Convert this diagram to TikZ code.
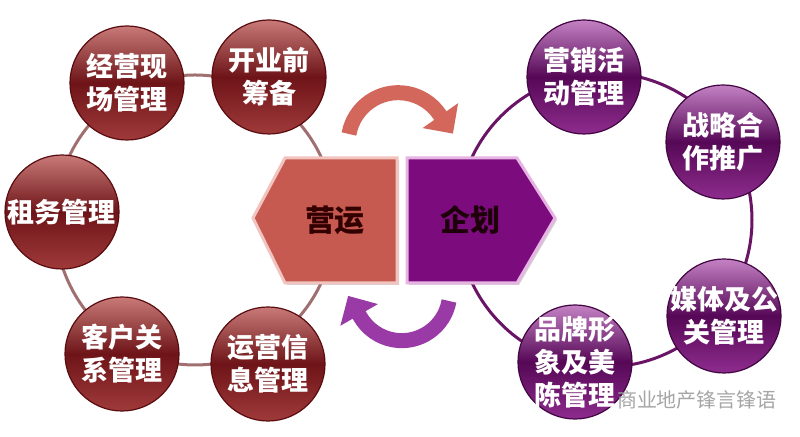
\documentclass[tikz,border=0pt]{standalone}
\usepackage{fontspec}
\setmainfont{Noto Sans CJK SC}
\usetikzlibrary{arrows.meta,shadows}

\definecolor{ringred}{HTML}{A07070}
\definecolor{ringpurple}{HTML}{6A1466}
\definecolor{redtop}{HTML}{C87A78}
\definecolor{redmid}{HTML}{6E1418}
\definecolor{redbot}{HTML}{A03A3A}
\definecolor{redrim}{HTML}{5A0C10}
\definecolor{purtop}{HTML}{C482C4}
\definecolor{purmid}{HTML}{560856}
\definecolor{purbot}{HTML}{8E2C8E}
\definecolor{purrim}{HTML}{420642}
\definecolor{yyfill}{HTML}{C65A50}
\definecolor{qhfill}{HTML}{7C0C7E}
\definecolor{yyedge}{HTML}{F2C4C0}
\definecolor{qhedge}{HTML}{E6B4E2}
\definecolor{arrowred}{HTML}{D4675C}
\definecolor{arrowpurple}{HTML}{9A3AA6}

\begin{document}
\begin{tikzpicture}[x=0.5pt,y=0.5pt,
    redball/.style={circle,minimum size=57pt,inner sep=0pt,top color=redtop,bottom color=redbot,middle color=redmid,draw=redrim,line width=0.6pt},
    purball/.style={circle,minimum size=57pt,inner sep=0pt,top color=purtop,bottom color=purbot,middle color=purmid,draw=purrim,line width=0.6pt},
    ctext/.style={text=white,font=\bfseries\fontsize{13.5}{16.5}\selectfont,align=center,inner sep=0pt},
    hextext/.style={font=\bfseries\fontsize{15}{18}\selectfont,inner sep=0pt},
    bigarrow/.style={line width=7.5pt,-{Triangle[length=11pt,width=21pt]}}]
    \useasboundingbox[fill=white] (0,0) rectangle (800,437);
    % the two rings
    \draw[ringred,line width=1.5pt] (195,217) ellipse [x radius=140,y radius=145];
    \draw[ringpurple,line width=1.5pt] (605,217) circle [radius=147];
    % left group
    \node[redball,label={[ctext]center:{经营现\\场管理}}] (jyxc) at (127,354) {};
    \node[redball,label={[ctext]center:{开业前\\筹备}}] (kyq) at (269,360) {};
    \node[redball,label={[ctext]center:{租务管理}}] (zwgl) at (62,225) {};
    \node[redball,label={[ctext]center:{客户关\\系管理}}] (khgx) at (122,83) {};
    \node[redball,label={[ctext]center:{运营信\\息管理}}] (yyxx) at (268,73) {};
    % right group
    \node[purball,label={[ctext]center:{营销活\\动管理}}] (yxhd) at (584,360) {};
    \node[purball,label={[ctext]center:{战略合\\作推广}}] (zlhz) at (723,295) {};
    \node[purball,label={[ctext]center:{媒体及公\\关管理}}] (mtgg) at (724,121) {};
    \node[purball,label={[ctext]center:{品牌形\\象及美\\陈管理}}] (ppxx) at (575,75) {};
    % middle
    \filldraw[fill=yyfill,draw=yyedge,line width=1.5pt,drop shadow={shadow xshift=1pt,shadow yshift=-1pt,opacity=0.35}]
        (253,219) -- (285,279) -- (397,279) -- (397,154) -- (285,154) -- cycle;
    \filldraw[fill=qhfill,draw=qhedge,line width=1.5pt,drop shadow={shadow xshift=1pt,shadow yshift=-1pt,opacity=0.35}]
        (407,279) -- (517,279) -- (555,219) -- (517,154) -- (407,154) -- cycle;
    \node[hextext,text=black!80!red] (yy) at (335,217) {营运};
    \node[hextext,text=black!85!purple] (qh) at (470,217) {企划};
    \draw[bigarrow,arrowred] (349,303) arc[start angle=170,end angle=35,radius=50] -- ++(-55:24);
    \draw[bigarrow,arrowpurple] (449,136) arc[start angle=-10,end angle=-150,radius=48] -- ++(120:24);
    \node[text=gray!70,font=\fontsize{10}{12}\selectfont] (wm) at (697,37) {商业地产锋言锋语};
\end{tikzpicture}
\end{document}
